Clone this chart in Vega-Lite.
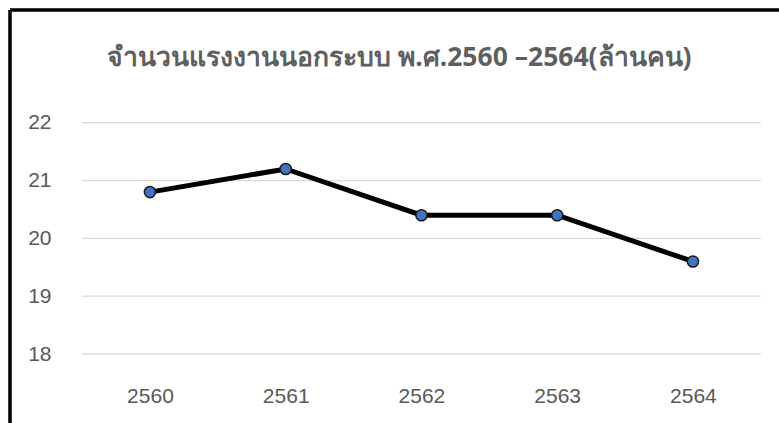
{
  "$schema": "https://vega.github.io/schema/vega-lite/v6.json",
  "autosize": {"type": "none"},
  "padding": {"left": 10, "top": 10, "right": 0, "bottom": 0},
  "width": 769,
  "height": 413,
  "background": "white",
  "config": {
    "view": {"stroke": null},
    "font": "Noto Sans"
  },
  "title": {
    "text": "จำนวนแรงงานนอกระบบ พ.ศ.2560 –2564(ล้านคน)",
    "anchor": "middle",
    "frame": "group",
    "baseline": "middle",
    "dy": 80,
    "dx": 5,
    "fontSize": 26.5,
    "fontWeight": "bold",
    "color": "#5f5f5f"
  },
  "datasets": {
    "series": [
      {"year": 2560, "value": 20.8},
      {"year": 2561, "value": 21.2},
      {"year": 2562, "value": 20.4},
      {"year": 2563, "value": 20.4},
      {"year": 2564, "value": 19.6}
    ],
    "grid": [
      {"g": 18}, {"g": 19}, {"g": 20}, {"g": 21}, {"g": 22}
    ]
  },
  "layer": [
    {
      "data": {"name": "grid"},
      "mark": {"type": "rule", "color": "#d9d9d9", "strokeWidth": 1.3},
      "encoding": {
        "x": {"datum": 2559.5, "type": "quantitative", "scale": {"domain": [2558.969, 2564.634], "nice": false, "zero": false}},
        "x2": {"datum": 2564.5},
        "y": {"field": "g", "type": "quantitative", "scale": {"domain": [16.807, 23.949], "nice": false, "zero": false},
          "axis": {"values": [18, 19, 20, 21, 22], "format": "d", "title": null, "grid": false, "domain": false, "ticks": false, "offset": -41, "labelPadding": 0, "labelFontSize": 21, "labelColor": "#595959", "labelFont": "Liberation Sans"}}
      }
    },
    {
      "data": {"name": "grid"},
      "mark": {"type": "rule", "color": "black", "strokeWidth": 2.5},
      "encoding": {
        "x": {"datum": 2558.969, "type": "quantitative"}
      }
    },
    {
      "data": {"name": "grid"},
      "mark": {"type": "rule", "color": "black", "strokeWidth": 2.5},
      "encoding": {
        "y": {"datum": 23.949, "type": "quantitative"}
      }
    },
    {
      "data": {"name": "series"},
      "mark": {"type": "line", "color": "black", "strokeWidth": 5},
      "encoding": {
        "x": {"field": "year", "type": "quantitative",
          "axis": {"values": [2560, 2561, 2562, 2563, 2564], "format": "d", "title": null, "grid": false, "domain": false, "ticks": false, "offset": -38, "labelPadding": 0, "labelFontSize": 21, "labelColor": "#595959", "labelFont": "Liberation Sans"}},
        "y": {"field": "value", "type": "quantitative"}
      }
    },
    {
      "data": {"name": "series"},
      "mark": {"type": "point", "filled": true, "fill": "#4472C4", "stroke": "#1a1a1a", "strokeWidth": 1.5, "size": 125, "opacity": 1},
      "encoding": {
        "x": {"field": "year", "type": "quantitative"},
        "y": {"field": "value", "type": "quantitative"}
      }
    }
  ]
}
